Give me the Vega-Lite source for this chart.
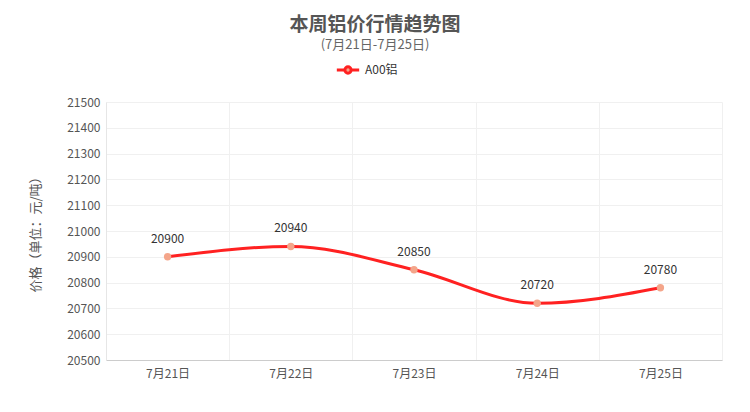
{
  "$schema": "https://vega.github.io/schema/vega-lite/v6.json",
  "autosize": {"type": "none"},
  "width": 616,
  "height": 258,
  "padding": {"left": 106, "top": 102, "right": 28, "bottom": 52},
  "background": "white",
  "title": {
    "text": "本周铝价行情趋势图",
    "subtitle": "(7月21日-7月25日)",
    "anchor": "middle",
    "dx": -39,
    "offset": 5,
    "fontSize": 19,
    "fontWeight": "bold",
    "color": "#555555",
    "subtitleFontSize": 13,
    "subtitleColor": "#666666",
    "subtitlePadding": 4
  },
  "data": {
    "values": [
      {"date": "7月21日", "price": 20900, "series": "A00铝"},
      {"date": "7月22日", "price": 20940, "series": "A00铝"},
      {"date": "7月23日", "price": 20850, "series": "A00铝"},
      {"date": "7月24日", "price": 20720, "series": "A00铝"},
      {"date": "7月25日", "price": 20780, "series": "A00铝"}
    ]
  },
  "encoding": {
    "x": {
      "field": "date",
      "type": "ordinal",
      "sort": null,
      "scale": {"type": "band", "paddingInner": 0, "paddingOuter": 0},
      "axis": {
        "title": null,
        "labelAngle": 0,
        "tickBand": "extent",
        "grid": true,
        "gridColor": "#f0f0f0",
        "ticks": false,
        "domainColor": "#cccccc",
        "labelPadding": 8
      }
    },
    "y": {
      "field": "price",
      "type": "quantitative",
      "scale": {"domain": [20500, 21500], "nice": false, "zero": false},
      "axis": {
        "title": "价格（单位：元/吨）",
        "values": [20500, 20600, 20700, 20800, 20900, 21000, 21100, 21200, 21300, 21400, 21500],
        "format": "d",
        "ticks": false,
        "gridColor": "#f0f0f0",
        "domainColor": "#e6e6e6",
        "labelPadding": 6,
        "titlePadding": 24,
        "titleFontWeight": "normal",
        "titleFontSize": 13,
        "titleColor": "#555555"
      }
    }
  },
  "layer": [
    {
      "mark": {"type": "line", "interpolate": "monotone", "strokeWidth": 3},
      "encoding": {
        "color": {
          "field": "series",
          "type": "nominal",
          "scale": {"range": ["#ff2121"]},
          "legend": {
            "title": null,
            "orient": "none",
            "legendX": 229,
            "legendY": -45,
            "symbolType": "M-1,0L-0.3,0M0.3,0L1,0M0.28,0A0.28,0.28 0 1 1 -0.28,0A0.28,0.28 0 1 1 0.28,0",
            "symbolSize": 500,
            "symbolStrokeWidth": 3,
            "labelFontSize": 12,
            "labelColor": "#333333",
            "encode": {"symbols": {"update": {"fill": {"value": "#f4a58a"}}}}
          }
        }
      }
    },
    {
      "mark": {"type": "point", "filled": true, "size": 55, "color": "#f4a58a", "opacity": 1}
    },
    {
      "mark": {"type": "text", "dy": -18, "fontSize": 12, "color": "#333333"},
      "encoding": {"text": {"field": "price", "type": "quantitative", "format": "d"}}
    }
  ],
  "config": {
    "font": "Noto Sans CJK SC",
    "view": {"stroke": null},
    "axis": {"labelFontSize": 12, "labelColor": "#555555", "gridColor": "#f0f0f0"}
  }
}
